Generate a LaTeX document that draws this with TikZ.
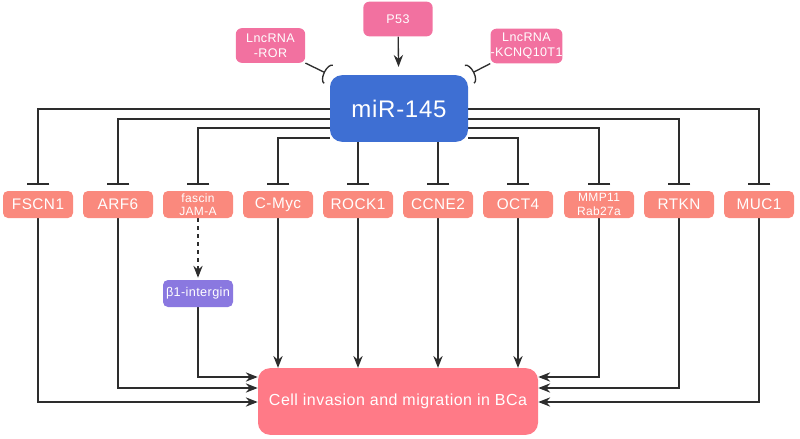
\documentclass[tikz,border=0pt]{standalone}
\usepackage{fontspec}
\setmainfont{Liberation Sans}[LetterSpace=3]
\usetikzlibrary{arrows.meta,backgrounds}

\definecolor{mirblue}{RGB}{62,111,211}
\definecolor{regpink}{RGB}{242,113,160}
\definecolor{tgtsalmon}{RGB}{250,137,125}
\definecolor{intpurple}{RGB}{138,120,224}
\definecolor{bcared}{RGB}{255,122,135}
\definecolor{linegray}{RGB}{45,45,45}

\begin{document}
\begin{tikzpicture}[x=0.75pt,y=0.75pt,yscale=-1,xscale=1,
    box/.style={text=white, inner sep=0pt, align=center},
    regbox/.style={box, fill=regpink, rounded corners=4.5pt, minimum width=52pt, minimum height=26pt, font=\fontsize{9.4}{11.25}\selectfont},
    mirbox/.style={box, fill=mirblue, rounded corners=9pt, minimum width=103.5pt, minimum height=50pt, font=\fontsize{18}{20}\selectfont},
    tgtbox/.style={box, fill=tgtsalmon, rounded corners=3.75pt, minimum width=52.5pt, minimum height=20.25pt, font=\fontsize{11.5}{14}\selectfont},
    tgtsmall/.style={tgtbox, font=\fontsize{9}{10}\selectfont},
    intbox/.style={box, fill=intpurple, rounded corners=3.75pt, minimum width=52.5pt, minimum height=20.25pt, font=\fontsize{9.5}{12}\selectfont},
    cellbox/.style={box, fill=bcared, rounded corners=9pt, minimum width=210pt, minimum height=50pt, font=\fontsize{12}{14}\selectfont},
    act/.style={draw=linegray, line width=1pt, -{Stealth[length=9pt,width=7pt,inset=3pt]}},
    inh/.style={draw=linegray, line width=1pt, -{Bar[width=17pt,line width=1pt]}, shorten >=4.5pt},
    inhc/.style={draw=linegray, line width=1pt, -{Arc Barb[reversed,width=16pt,length=4pt,line width=1pt]}}
  ]
  \useasboundingbox (0,0) rectangle (800,439);

  % Text Node
  \draw (398,19) node [regbox] (p53) {P53};
  % Text Node
  \draw (270.5,45.5) node [regbox] (ror) {LncRNA\\-ROR};
  % Text Node
  \draw (526.5,46) node [regbox] (kcnq) {LncRNA\\-KCNQ10T1};
  % Text Node
  \draw (399,108.5) node [mirbox] (mir) {miR-145};

  % Text Node
  \draw (38,204.5) node [tgtbox] (fscn) {FSCN1};
  % Text Node
  \draw (118,204.5) node [tgtbox] (arf) {ARF6};
  % Text Node
  \draw (198,204.5) node [tgtsmall] (fascin) {fascin\\JAM-A};
  % Text Node
  \draw (278,204.5) node [tgtbox] (cmyc) {C-Myc};
  % Text Node
  \draw (358,204.5) node [tgtbox] (rock) {ROCK1};
  % Text Node
  \draw (438,204.5) node [tgtbox] (ccne) {CCNE2};
  % Text Node
  \draw (518,204.5) node [tgtbox] (oct) {OCT4};
  % Text Node
  \draw (599,204.5) node [tgtsmall] (mmp) {MMP11\\Rab27a};
  % Text Node
  \draw (679,204.5) node [tgtbox] (rtkn) {RTKN};
  % Text Node
  \draw (759,204.5) node [tgtbox] (muc) {MUC1};

  % Text Node
  \draw (198,293.5) node [intbox] (beta) {β1-intergin};
  % Text Node
  \draw (398,401.5) node [cellbox] (cell) {Cell invasion and migration in BCa};

  \begin{scope}[on background layer]
    %Straight Lines
    \draw [act, shorten >=6pt] (p53) -- (mir);
    \draw [inhc, shorten >=1pt] (ror.south east) -- (mir.north west);
    \draw [inhc, shorten >=1pt] (kcnq.south west) -- (mir.north east);

    %Straight Lines
    \draw [inh] (mir.west |- 0,109) -| (fscn);
    \draw [inh] (mir.west |- 0,119) -| (arf);
    \draw [inh] (mir.west |- 0,128) -| (fascin);
    \draw [inh] (mir.west |- 0,138) -| (cmyc);
    \draw [inh] (mir.south -| rock) -- (rock);
    \draw [inh] (mir.south -| ccne) -- (ccne);
    \draw [inh] (mir.east |- 0,138) -| (oct);
    \draw [inh] (mir.east |- 0,128) -| (mmp);
    \draw [inh] (mir.east |- 0,119) -| (rtkn);
    \draw [inh] (mir.east |- 0,109) -| (muc);

    %Straight Lines
    \draw [act, dashed, shorten >=1.5pt] (fascin) -- (beta);

    %Straight Lines
    \draw [act] (cmyc) -- (cmyc |- cell.north);
    \draw [act] (rock) -- (rock |- cell.north);
    \draw [act] (ccne) -- (ccne |- cell.north);
    \draw [act] (oct) -- (oct |- cell.north);
    \draw [act] (beta) |- (cell.west |- 0,377);
    \draw [act] (arf) |- (cell.west |- 0,388);
    \draw [act] (fscn) |- (cell.west |- 0,402);
    \draw [act] (mmp) |- (cell.east |- 0,377);
    \draw [act] (rtkn) |- (cell.east |- 0,388);
    \draw [act] (muc) |- (cell.east |- 0,402);
  \end{scope}
\end{tikzpicture}
\end{document}
